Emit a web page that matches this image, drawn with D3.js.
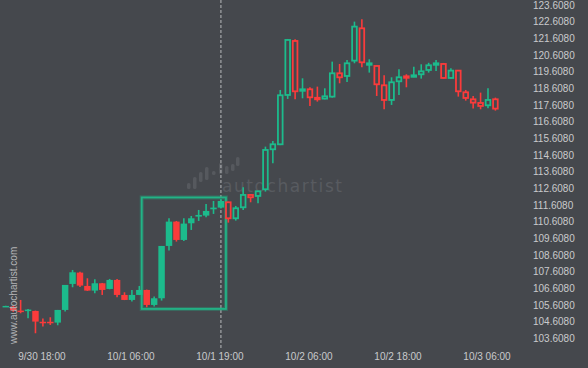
<!DOCTYPE html>
<html>
<head>
<meta charset="utf-8">
<title>Candles</title>
<script src="https://d3js.org/d3.v7.min.js" charset="utf-8"></script>
<style>
body { margin: 0; background: #45484d; }
.axis text { font: 10px "Liberation Sans", Arial, sans-serif; fill: #c9cacc; }
</style>
</head>
<body>
<script type="text/javascript">
// hourly candles, index 0..66
var opens  = [105.53,105.50,105.27,105.31,105.25,104.60,104.60,104.55,105.31,106.87,107.55,106.75,106.47,106.91,106.57,107.11,106.21,105.91,106.21,106.51,105.61,106.01,109.15,110.61,109.51,110.51,110.91,110.97,111.35,111.45,
              111.77,110.81,111.47,112.21,112.15,112.55,114.95,115.25,118.21,121.45,118.47,118.55,118.04,117.99,118.11,119.51,119.35,120.27,122.21,120.07,119.95,118.79,117.91,119.03,119.33,119.33,119.45,119.71,120.05,120.07,119.23,119.67,118.37,117.95,117.73,117.59,117.95];
var highs  = [105.56,105.56,105.91,105.36,105.27,104.79,104.87,105.31,106.81,107.71,107.60,107.21,107.15,106.93,107.17,107.17,106.37,106.51,106.75,106.53,106.11,109.15,110.81,110.65,110.81,110.95,111.31,111.67,111.85,111.97,
              111.80,111.55,112.67,112.23,112.45,115.11,115.45,118.51,121.57,121.55,119.21,118.67,118.71,118.61,120.21,120.07,120.31,122.61,122.75,120.35,119.97,119.39,119.27,119.75,119.45,119.91,120.05,120.14,120.31,120.13,119.81,119.70,118.51,118.15,118.35,118.61,118.05];
var lows   = [105.50,105.20,105.11,104.81,103.91,104.31,104.41,104.39,105.21,106.67,106.69,106.45,106.31,106.21,106.55,106.07,105.90,105.81,106.20,105.47,105.51,105.87,108.87,109.41,109.45,110.11,110.65,110.87,111.07,111.40,
              110.55,110.67,111.31,111.77,111.71,112.41,114.11,115.20,117.97,117.95,118.01,117.55,117.81,117.95,118.05,118.91,118.99,120.11,119.87,119.55,118.15,117.35,117.61,118.21,118.67,119.27,119.19,119.55,119.65,119.20,119.20,118.11,117.87,117.39,117.35,117.41,117.27];
var closes = [105.55,105.28,105.25,105.33,104.61,104.58,104.58,105.31,106.81,107.57,106.77,106.47,106.91,106.51,107.11,106.21,105.91,106.21,106.51,105.61,106.01,109.15,110.61,109.51,110.49,110.81,111.01,111.25,111.45,111.85,
              110.81,111.41,112.21,112.07,112.43,114.91,115.25,118.19,121.51,118.43,118.55,118.07,118.00,118.13,119.51,119.27,120.11,122.31,120.17,120.11,118.85,117.91,118.97,119.27,119.29,119.39,119.63,119.99,120.11,119.23,119.67,118.43,118.03,117.75,117.55,117.91,117.39];

var tickIdx = [5, 17, 29, 41, 53, 65];
var tickLabels = ["9/30 18:00", "10/1 06:00", "10/1 19:00", "10/2 06:00", "10/2 18:00", "10/3 06:00"];
var priceTicks = [103.608,104.608,105.608,106.608,107.608,108.608,109.608,110.608,111.608,112.608,113.608,
                  114.608,115.608,116.608,117.608,118.608,119.608,120.608,121.608,122.608,123.608];

// pattern box: first / last candle and price range
var boxIdx = [19, 29];
var boxPrice = [105.37, 112.06];
var markIdx = 29;

var W = 588, H = 368;
var green = "#1cbb8c", red = "#fb3b3b";

var data = opens.map(function(o, i) {
  return {i: i, o: o, h: highs[i], l: lows[i], c: closes[i]};
});

var x = d3.scaleBand().domain(d3.range(data.length)).range([1.6, 499.6]).padding(0.13);
var y = d3.scaleLinear().domain([103.608, 123.608]).range([338.3, 5]);
function cx(i) { return x(i) + x.bandwidth() / 2; }

var svg = d3.select("body").append("svg")
  .attr("width", W).attr("height", H);

svg.append("rect").attr("width", W).attr("height", H).attr("fill", "#45484d");

// watermark
var wm = svg.append("g").attr("class", "watermark");
var logoBars = [[187,183,6],[193,177,12],[199,172,10],[205,167,13],[212,171,4],[219,163,11],[225,166,8],[231,164,7],[236,157,9]];
wm.selectAll("rect").data(logoBars).enter().append("rect")
  .attr("x", function(d) { return d[0]; }).attr("y", function(d) { return d[1]; })
  .attr("width", 3.5).attr("height", function(d) { return d[2]; })
  .attr("rx", 1.5).attr("fill", "#56595e");
wm.append("text").attr("x", 222).attr("y", 192)
  .attr("textLength", 120).attr("lengthAdjust", "spacing")
  .style("font", "17px 'DejaVu Sans', sans-serif").attr("fill", "#585b60")
  .text("autochartist");

// dashed marker
svg.append("line")
  .attr("x1", cx(markIdx)).attr("x2", cx(markIdx))
  .attr("y1", 0).attr("y2", 350)
  .attr("stroke", "#b9babc").attr("stroke-width", 1)
  .attr("stroke-dasharray", "3,2");

// pattern box
var bx0 = x(boxIdx[0]) - 1.8, bx1 = x(boxIdx[1]) + x.bandwidth() + 1.8;
var box = svg.append("g").attr("class", "box");
box.append("rect")
  .attr("x", bx0).attr("y", y(boxPrice[1]))
  .attr("width", bx1 - bx0).attr("height", y(boxPrice[0]) - y(boxPrice[1]))
  .attr("fill", "none").attr("stroke", "#1fae82").attr("stroke-opacity", 0.35).attr("stroke-width", 4);
box.append("rect")
  .attr("x", bx0).attr("y", y(boxPrice[1]))
  .attr("width", bx1 - bx0).attr("height", y(boxPrice[0]) - y(boxPrice[1]))
  .attr("fill", "none").attr("stroke", "#22b386").attr("stroke-width", 1.8);

// candles: filled up to the marker, hollow after it
var candles = svg.selectAll(".candle").data(data).enter().append("g").attr("class", "candle");
candles.append("line")
  .attr("x1", function(d) { return cx(d.i); }).attr("x2", function(d) { return cx(d.i); })
  .attr("y1", function(d) { return y(d.h); }).attr("y2", function(d) { return y(d.l); })
  .attr("stroke", function(d) { return d.c >= d.o ? green : red; })
  .attr("stroke-width", 1.6);
candles.append("rect")
  .attr("x", function(d) { return d.i <= markIdx ? x(d.i) : x(d.i) + 0.9; })
  .attr("width", function(d) { return d.i <= markIdx ? x.bandwidth() : x.bandwidth() - 1.8; })
  .attr("y", function(d) { return y(Math.max(d.o, d.c)); })
  .attr("height", function(d) { return Math.max(1.5, Math.abs(y(d.o) - y(d.c))); })
  .attr("fill", function(d) { return d.i <= markIdx ? (d.c >= d.o ? green : red) : "#45484d"; })
  .attr("stroke", function(d) { return d.i <= markIdx ? "none" : (d.c >= d.o ? green : red); })
  .attr("stroke-width", 1.8);

// axes
var yAxis = svg.append("g").attr("class", "axis");
yAxis.selectAll("text").data(priceTicks).enter().append("text")
  .attr("x", 533).attr("y", function(d) { return y(d) + 3.6; })
  .text(function(d) { return d3.format(".4f")(d); });

var xAxis = svg.append("g").attr("class", "axis");
xAxis.selectAll("text").data(tickIdx).enter().append("text")
  .attr("x", function(d) { return cx(d) - 1; }).attr("y", 359.5)
  .attr("text-anchor", "middle")
  .text(function(d, k) { return tickLabels[k]; });

svg.append("text")
  .attr("transform", "translate(16.5,344) rotate(-90)")
  .style("font", "10px 'Liberation Sans', Arial, sans-serif").attr("fill", "#b4b5b7")
  .text("www.autochartist.com");
</script>
</body>
</html>
